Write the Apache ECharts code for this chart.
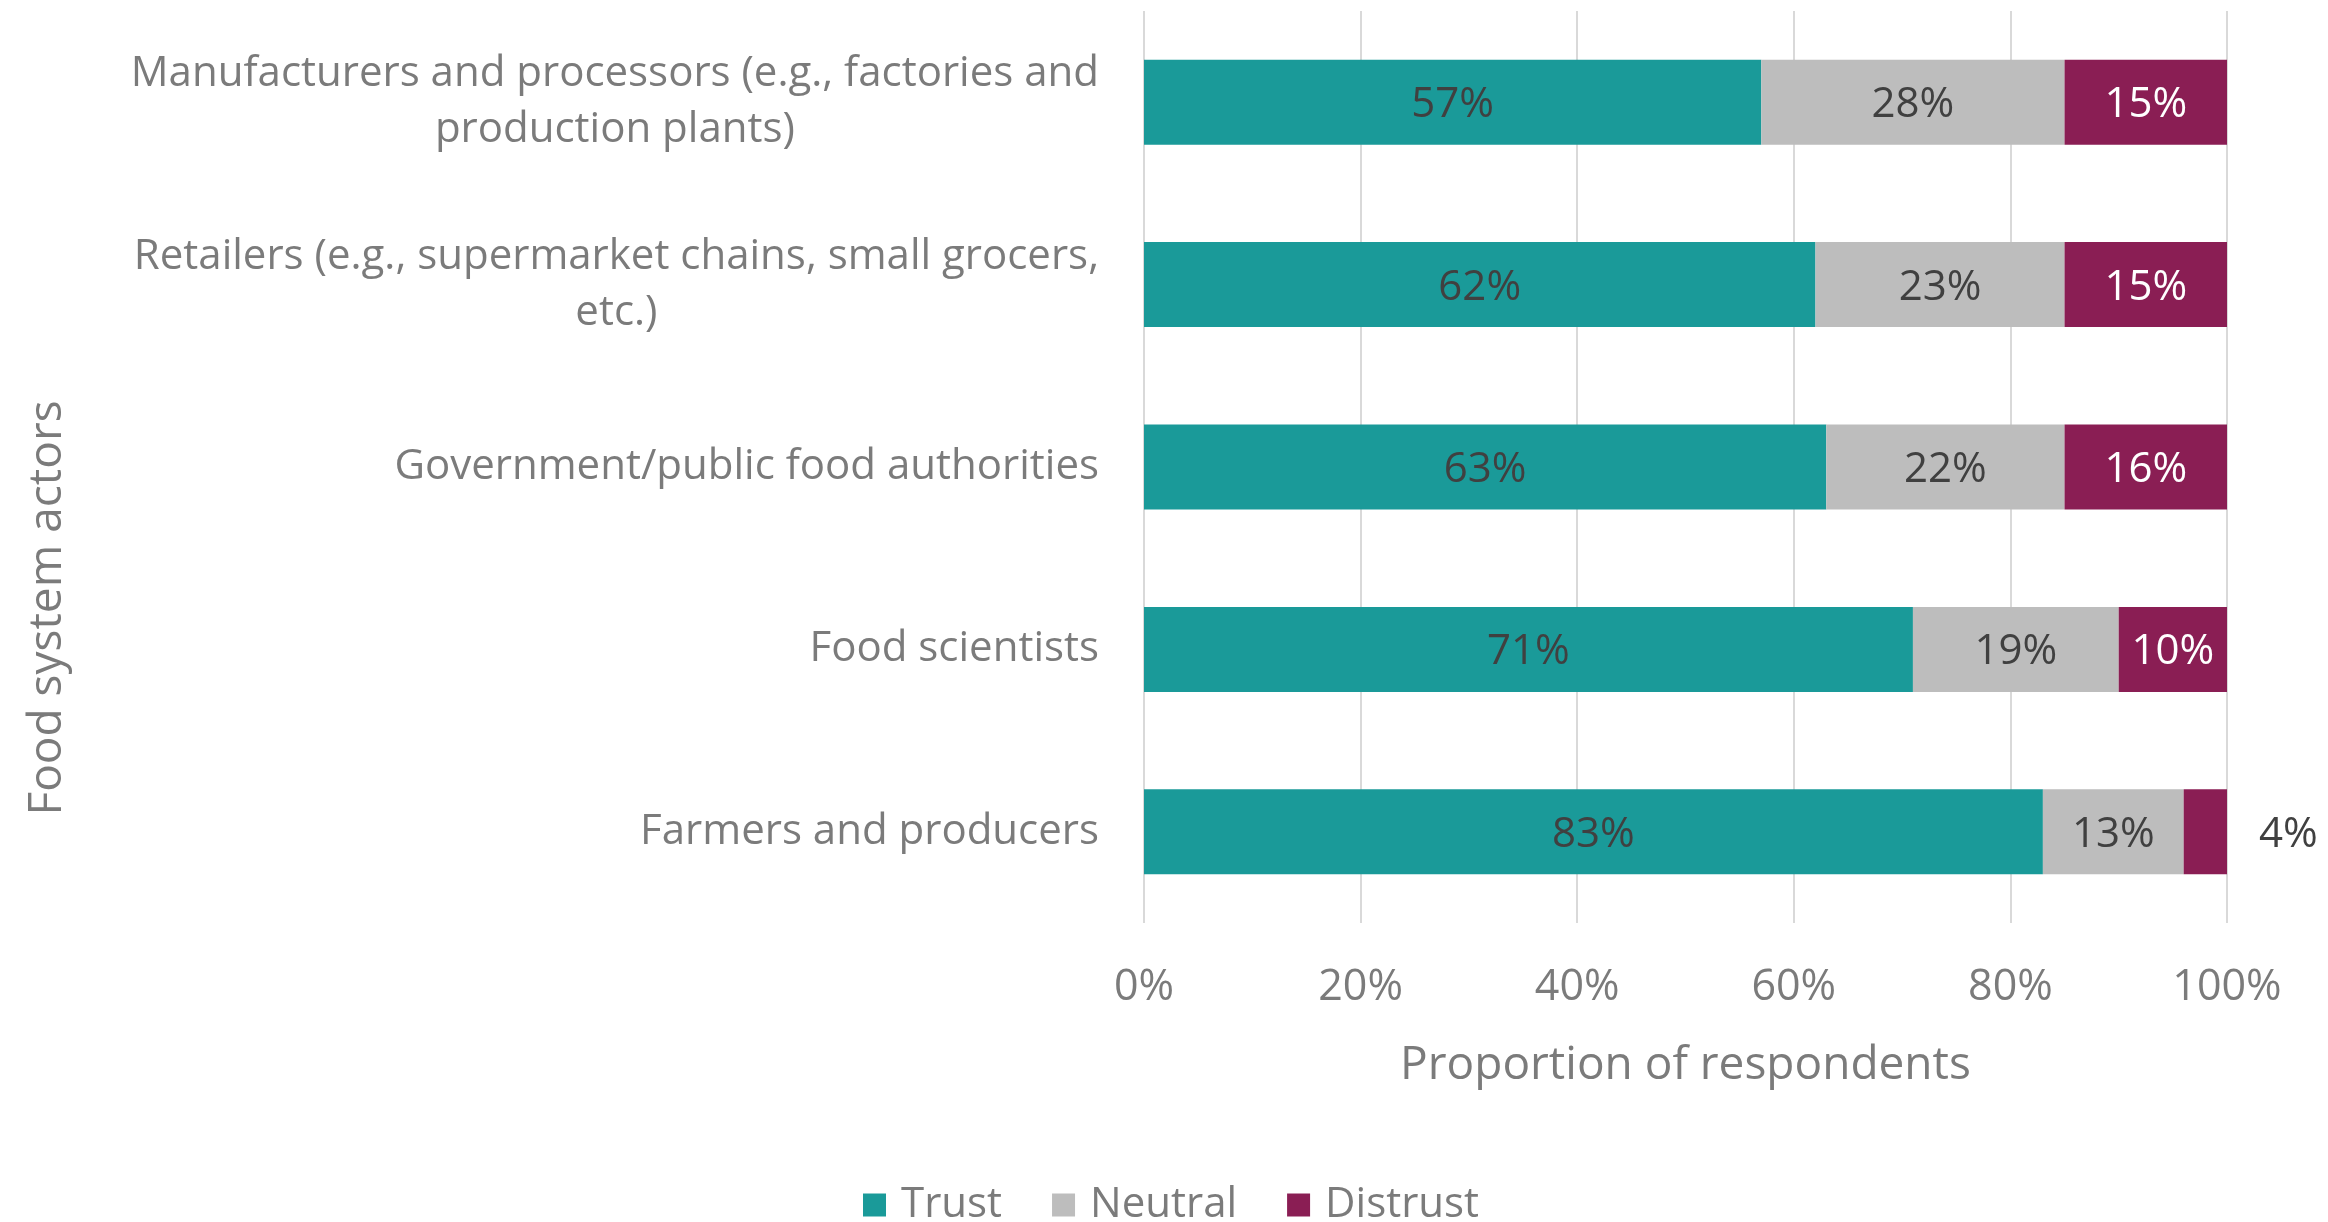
<!DOCTYPE html>
<html>
<head>
<meta charset="utf-8">
<title>Trust in food system actors</title>
<script src="https://cdn.jsdelivr.net/npm/echarts@6/dist/echarts.min.js"></script>
<style>
  html, body { margin: 0; padding: 0; background: #ffffff; }
  #chart { width: 2328px; height: 1222px; }
</style>
</head>
<body>
<div id="chart"></div>
<script>
// Survey results: share of respondents who trust each food system actor
const categories = [
  'Manufacturers and processors (e.g., factories and\nproduction plants)',
  'Retailers (e.g., supermarket chains, small grocers,\netc.)',
  'Government/public food authorities',
  'Food scientists',
  'Farmers and producers'
];
const trust = [57, 62, 63, 71, 83];
const neutral = [28, 23, 22, 19, 13];
const distrust = [15, 15, 16, 10, 4];
const seriesNames = ['Trust', 'Neutral', 'Distrust'];
const xTickStep = 20;

const FONT = '"Open Sans", "Liberation Sans", sans-serif';
const SIZE = 42;
const TITLE_SIZE = 46;
const AXIS_GREY = '#7b7b7b';
const LABEL_DARK = '#404040';
const COLORS = ['#1a9a99', '#bdbdbd', '#8a1e54'];

const chart = echarts.init(document.getElementById('chart'), null, { renderer: 'canvas' });

function valueLabel(color) {
  return {
    show: true,
    position: 'inside',
    offset: [0, 3],
    formatter: p => p.value + '%',
    color: color,
    fontFamily: FONT,
    fontSize: SIZE
  };
}

// Small distrust values get their label beside the bar end
const distrustData = distrust.map(v => v < 5
  ? { value: v, label: { position: 'right', distance: 32, color: LABEL_DARK } }
  : v);

chart.setOption({
  animation: false,
  backgroundColor: '#ffffff',
  textStyle: { fontFamily: FONT },
  grid: {
    left: 1144, right: 101, top: 11, height: 912,
    containLabel: false,
    outerBoundsMode: 'none'
  },
  legend: {
    data: seriesNames,
    left: 858,
    top: 1179,
    itemWidth: 23,
    itemHeight: 23,
    itemGap: 50,
    icon: 'rect',
    textStyle: { color: AXIS_GREY, fontSize: SIZE, fontFamily: FONT, padding: [0, 0, 0, 10] }
  },
  xAxis: {
    type: 'value',
    min: 0,
    max: 100,
    interval: xTickStep,
    name: 'Proportion of respondents',
    nameLocation: 'middle',
    nameGap: 120,
    nameTextStyle: { color: AXIS_GREY, fontSize: TITLE_SIZE, fontFamily: FONT },
    axisLine: { show: false },
    axisTick: { show: false },
    axisLabel: {
      formatter: '{value}%',
      color: AXIS_GREY,
      fontSize: SIZE + 1,
      fontFamily: FONT,
      margin: 43
    },
    splitLine: { show: true, lineStyle: { color: '#d9d9d9', width: 2 } }
  },
  yAxis: {
    type: 'category',
    inverse: true,
    data: categories,
    axisLine: { show: false },
    axisTick: { show: false },
    splitLine: { show: false },
    axisLabel: {
      margin: 45,
      color: AXIS_GREY,
      fontSize: SIZE,
      fontFamily: FONT,
      lineHeight: 56,
      // each wrapped line is centred within the label block
      formatter: v => v.split('\n').map(l => '{c|' + l + '}').join('\n'),
      rich: {
        c: { align: 'center', color: AXIS_GREY, fontSize: SIZE, fontFamily: FONT, lineHeight: 56 }
      }
    }
  },
  graphic: [{
    type: 'text',
    x: 48,
    y: 608,
    rotation: Math.PI / 2,
    style: {
      text: 'Food system actors',
      align: 'center',
      verticalAlign: 'middle',
      fill: AXIS_GREY,
      fontSize: TITLE_SIZE,
      fontFamily: FONT
    }
  }],
  series: [
    { name: seriesNames[0], type: 'bar', stack: 'total', barWidth: 85, data: trust,
      itemStyle: { color: COLORS[0] }, label: valueLabel(LABEL_DARK) },
    { name: seriesNames[1], type: 'bar', stack: 'total', barWidth: 85, data: neutral,
      itemStyle: { color: COLORS[1] }, label: valueLabel(LABEL_DARK) },
    { name: seriesNames[2], type: 'bar', stack: 'total', barWidth: 85, data: distrustData,
      itemStyle: { color: COLORS[2] }, label: valueLabel('#ffffff') }
  ]
});
</script>
</body>
</html>
